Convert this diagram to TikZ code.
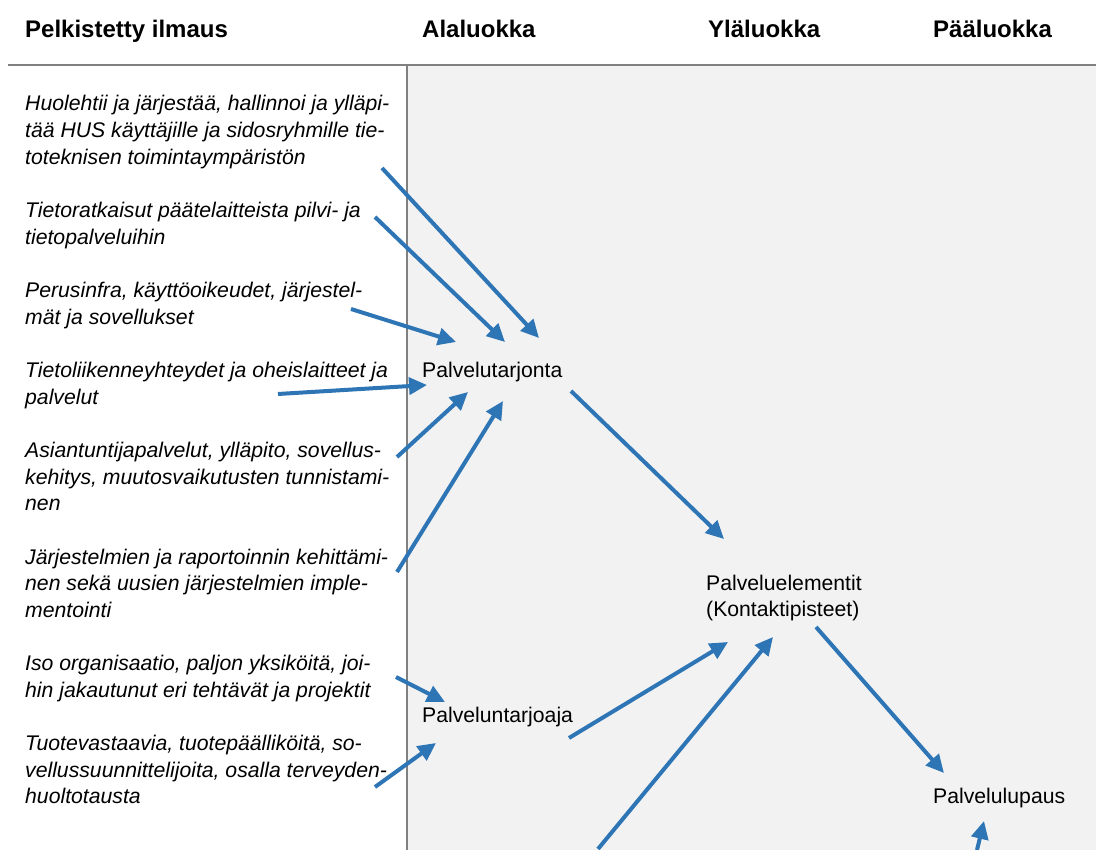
\documentclass[tikz,border=0pt]{standalone}
\usepackage{fontspec}
\setmainfont{Liberation Sans}
\usetikzlibrary{arrows.meta}
\definecolor{arrblue}{HTML}{2E75B6}
\definecolor{panel}{HTML}{F2F2F2}
\definecolor{rulegray}{HTML}{808080}
\newcommand{\mylines}[1]{\begin{tabular}[t]{@{}l@{}}#1\end{tabular}}
\begin{document}
\begin{tikzpicture}[x=1pt,y=-1pt,
  head/.style={font=\fontsize{24}{28}\selectfont\bfseries, anchor=base west, inner sep=0pt},
  quote/.style={font=\fontsize{21.2}{26.65}\selectfont\itshape, anchor=base west, inner sep=0pt},
  cat/.style={font=\fontsize{21.2}{26.65}\selectfont, anchor=base west, inner sep=0pt},
  link/.style={draw=arrblue, line width=4pt, -{Triangle[length=18pt,width=17pt]}},
  divider/.style={draw=rulegray}
]
\useasboundingbox (0,0) rectangle (1096,850);
\fill[panel] (407,66) rectangle (1096,850);
\draw[divider, line width=2pt] (8,65) -- (1096,65);
\draw[divider, line width=1.5pt] (407,66) -- (407,850);

% headers
\node[head] (h1) at (25,38) {Pelkistetty ilmaus};
\node[head] (h2) at (422,38) {Alaluokka};
\node[head] (h3) at (708,38) {Yläluokka};
\node[head] (h4) at (933,38) {Pääluokka};

% simplified expressions
\node[quote] (q1) at (25,111) {\mylines{Huolehtii ja järjestää, hallinnoi ja ylläpi-\\tää HUS käyttäjille ja sidosryhmille tie-\\toteknisen toimintaympäristön}};
\node[quote] (q2) at (25,217.6) {\mylines{Tietoratkaisut päätelaitteista pilvi- ja\\tietopalveluihin}};
\node[quote] (q3) at (25,297.6) {\mylines{Perusinfra, käyttöoikeudet, järjestel-\\mät ja sovellukset}};
\node[quote] (q4) at (25,377.5) {\mylines{Tietoliikenneyhteydet ja oheislaitteet ja\\palvelut}};
\node[quote] (q5) at (25,457.5) {\mylines{Asiantuntijapalvelut, ylläpito, sovellus-\\kehitys, muutosvaikutusten tunnistami-\\nen}};
\node[quote] (q6) at (25,564) {\mylines{Järjestelmien ja raportoinnin kehittämi-\\nen sekä uusien järjestelmien imple-\\mentointi}};
\node[quote] (q7) at (25,670.7) {\mylines{Iso organisaatio, paljon yksiköitä, joi-\\hin jakautunut eri tehtävät ja projektit}};
\node[quote] (q8) at (25,750.6) {\mylines{Tuotevastaavia, tuotepäälliköitä, so-\\vellussuunnittelijoita, osalla terveyden-\\huoltotausta}};

% categories
\node[cat] (tarjonta) at (422,377.5) {Palvelutarjonta};
\node[cat] (elementit) at (706,590) {\mylines{Palveluelementit\\(Kontaktipisteet)}};
\node[cat] (tarjoaja) at (422,722) {Palveluntarjoaja};
\node[cat] (lupaus) at (933,803) {Palvelulupaus};

% arrow end points
\coordinate (a1s) at (382,168); \coordinate (a1e) at (539,338);
\coordinate (a2s) at (375,217); \coordinate (a2e) at (505,342);
\coordinate (a3s) at (351,309); \coordinate (a3e) at (456,342);
\coordinate (a4s) at (278,394); \coordinate (a4e) at (427,385);
\coordinate (a5s) at (397,457); \coordinate (a5e) at (468,392);
\coordinate (a6s) at (397,572); \coordinate (a6e) at (503,401);
\coordinate (a7s) at (571,391); \coordinate (a7e) at (724,539);
\coordinate (a8s) at (396,677); \coordinate (a8e) at (445,702);
\coordinate (a9s) at (375,787); \coordinate (a9e) at (436,743);
\coordinate (a10s) at (569,738); \coordinate (a10e) at (728,642);
\coordinate (a11s) at (598,849); \coordinate (a11e) at (773,637);
\coordinate (a12s) at (816,627); \coordinate (a12e) at (944,773);
\coordinate (a13s) at (977,850); \coordinate (a13e) at (984,821);

\foreach \i in {1,...,13} \draw[link] (a\i s) -- (a\i e);
\end{tikzpicture}
\end{document}
